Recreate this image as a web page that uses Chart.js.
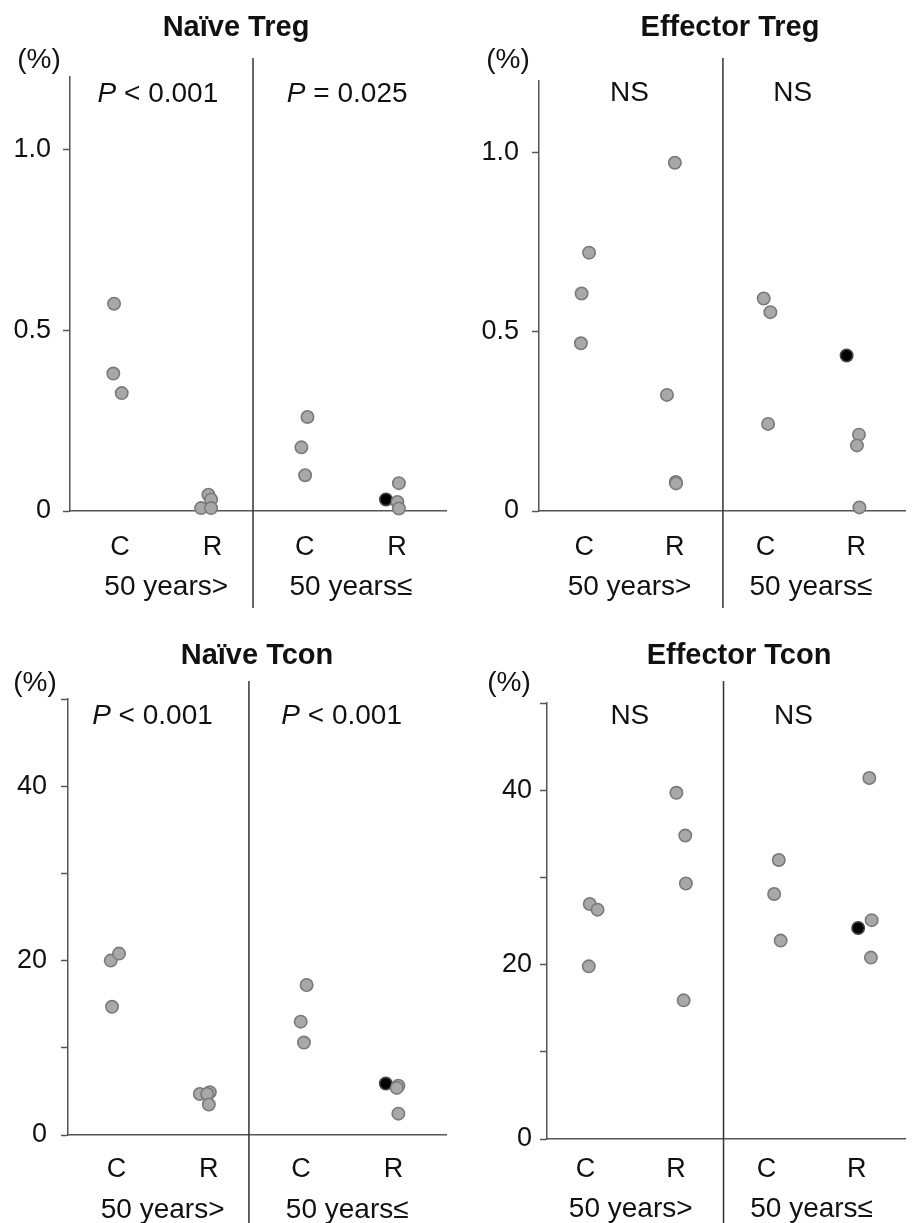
<!DOCTYPE html>
<html><head><meta charset="utf-8">
<script src="https://cdn.jsdelivr.net/npm/chart.js@4/dist/chart.umd.min.js"></script>
<style>
html,body{margin:0;padding:0;background:#fff;}
#wrap{position:relative;width:913px;height:1223px;overflow:hidden;}
canvas{position:absolute;}
</style></head><body>
<div id="wrap">
<canvas id="c1"></canvas><canvas id="c2"></canvas><canvas id="c3"></canvas><canvas id="c4"></canvas>
</div>
<script>
// ---------- data ----------
const categories = ['C', 'R', 'C', 'R'];
const categoryPos = [1, 2, 3, 4];
const groupLabels = ['50 years>', '50 years≤'];
const groupPos = [1.5, 3.5];

const tregTicks = [0, 0.5, 1.0];
const tregTickLabels = ['0', '0.5', '1.0'];
const tconTicks = [0, 10, 20, 30, 40, 50];
const tconTickLabels = ['0', '', '20', '', '40', ''];

// groups: [C 50 years>, R 50 years>, C 50 years≤, R 50 years≤]
const naiveTregValues = [[0.573, 0.380, 0.326], [0.045, 0.032, 0.008, 0.008], [0.260, 0.176, 0.099], [0.077, 0.025, 0.007]];
const naiveTregJitter = [[-0.065, -0.073, 0.018], [-0.043, -0.014, -0.122, -0.014], [0.030, -0.036, 0.004], [0.020, 0.004, 0.020]];
const naiveTregHighlight = [0.032];
const naiveTregHighlightJitter = [-0.12];
const naiveTregStats = ['P < 0.001', 'P = 0.025'];

const effTregValues = [[0.721, 0.607, 0.468], [0.972, 0.324, 0.081, 0.077], [0.593, 0.555, 0.243], [0.213, 0.183, 0.010]];
const effTregJitter = [[0.054, -0.028, -0.036], [0.000, -0.087, 0.010, 0.014], [-0.020, 0.053, 0.028], [0.030, 0.008, 0.035]];
const effTregHighlight = [0.434];
const effTregHighlightJitter = [-0.106];
const effTregStats = ['NS', 'NS'];

const naiveTconValues = [[20.0, 20.8, 14.7], [4.7, 4.9, 4.7, 3.5], [17.2, 13.0, 10.6], [5.65, 5.4, 2.45]];
const naiveTconJitter = [[-0.062, 0.028, -0.048], [-0.097, 0.011, -0.017, 0.001], [0.060, -0.004, 0.031], [0.054, 0.037, 0.054]];
const naiveTconHighlight = [5.9];
const naiveTconHighlightJitter = [-0.082];
const naiveTconStats = ['P < 0.001', 'P < 0.001'];

const effTconValues = [[26.95, 26.3, 19.8], [39.7, 34.8, 29.3, 15.9], [32.0, 28.1, 22.75], [41.4, 25.1, 20.8]];
const effTconJitter = [[0.047, 0.133, 0.036], [0.005, 0.103, 0.110, 0.085], [0.137, 0.086, 0.158], [0.138, 0.164, 0.156]];
const effTconHighlight = [24.2];
const effTconHighlightJitter = [0.015];
const effTconStats = ['NS', 'NS'];

// ---------- layout ----------
const FONT = '"Liberation Sans", Arial, Helvetica, sans-serif';
const TEXT = '#111';
const AXIS = '#555';

const panels = [
  { id: 'c1', left: 0, top: 0, w: 456, h: 612, title: 'Naïve Treg',
    values: naiveTregValues, jitter: naiveTregJitter, hl: naiveTregHighlight, hlj: naiveTregHighlightJitter, stats: naiveTregStats,
    ticks: tregTicks, tickLabels: tregTickLabels, yMax: 1.2,
    area: { left: 70, top: 77, right: 446, bottom: 511 }, xMin: 0.458, xMax: 4.53, divider: 2.44, divTop: 58, divBottom: 608,
    titleX: 236, titleBase: 36, unitX: 39, unitBase: 68, statX: [1.41, 3.46], statBase: 101.5, groupBase: 595, tickPad: 12, xPad: 12 },
  { id: 'c2', left: 456, top: 0, w: 457, h: 612, title: 'Effector Treg',
    values: effTregValues, jitter: effTregJitter, hl: effTregHighlight, hlj: effTregHighlightJitter, stats: effTregStats,
    ticks: tregTicks, tickLabels: tregTickLabels, yMax: 1.2,
    area: { left: 83, top: 81, right: 457, bottom: 511 }, xMin: 0.502, xMax: 4.54, divider: 2.53, divTop: 58, divBottom: 608,
    titleX: 274, titleBase: 36, unitX: 52, unitBase: 68, statX: [1.5, 3.3], statBase: 101, groupBase: 595, tickPad: 13, xPad: 12 },
  { id: 'c3', left: 0, top: 612, w: 456, h: 611, title: 'Naïve Tcon',
    values: naiveTconValues, jitter: naiveTconJitter, hl: naiveTconHighlight, hlj: naiveTconHighlightJitter, stats: naiveTconStats,
    ticks: tconTicks, tickLabels: tconTickLabels, yMax: 50,
    area: { left: 68, top: 87, right: 446, bottom: 523 }, xMin: 0.475, xMax: 4.57, divider: 2.435, divTop: 69, divBottom: 611,
    titleX: 257, titleBase: 52, unitX: 35, unitBase: 79, statX: [1.39, 3.44], statBase: 112, groupBase: 606, tickPad: 14, xPad: 10 },
  { id: 'c4', left: 456, top: 612, w: 457, h: 611, title: 'Effector Tcon',
    values: effTconValues, jitter: effTconJitter, hl: effTconHighlight, hlj: effTconHighlightJitter, stats: effTconStats,
    ticks: tconTicks, tickLabels: tconTickLabels, yMax: 50,
    area: { left: 91, top: 91, right: 456, bottom: 527 }, xMin: 0.574, xMax: 4.535, divider: 2.526, divTop: 69, divBottom: 611,
    titleX: 283, titleBase: 52, unitX: 53, unitBase: 79, statX: [1.49, 3.30], statBase: 112, groupBase: 605, tickPad: 8, xPad: 6 }
];

function drawStat(ctx, text, cx, base) {
  const size = 28;
  let parts;
  if (text.startsWith('P ')) parts = [['italic', 'P'], ['normal', text.slice(1)]];
  else parts = [['normal', text]];
  let total = 0;
  parts.forEach(p => { ctx.font = p[0] + ' ' + size + 'px ' + FONT; p.push(ctx.measureText(p[1]).width); total += p[2]; });
  let x = cx - total / 2;
  ctx.textAlign = 'left';
  ctx.textBaseline = 'alphabetic';
  parts.forEach(p => { ctx.font = p[0] + ' ' + size + 'px ' + FONT; ctx.fillText(p[1], x, base); x += p[2]; });
}

const annotate = {
  id: 'annotate',
  beforeDatasetsDraw(chart, args, opts) {
    const p = opts.panel, ctx = chart.ctx, xs = chart.scales.x;
    const dx = xs.getPixelForValue(p.divider);
    ctx.save();
    ctx.strokeStyle = '#333';
    ctx.lineWidth = 1.5;
    ctx.beginPath();
    ctx.moveTo(dx, p.divTop);
    ctx.lineTo(dx, p.divBottom);
    ctx.stroke();
    ctx.restore();
  },
  afterDraw(chart, args, opts) {
    const p = opts.panel, ctx = chart.ctx, xs = chart.scales.x;
    ctx.save();
    ctx.fillStyle = TEXT;
    ctx.textBaseline = 'alphabetic';
    ctx.textAlign = 'center';
    ctx.font = 'bold 29px ' + FONT;
    ctx.fillText(p.title, p.titleX, p.titleBase);
    ctx.font = '28px ' + FONT;
    ctx.fillText('(%)', p.unitX, p.unitBase);
    ctx.font = '28px ' + FONT;
    groupLabels.forEach((g, i) => ctx.fillText(g, xs.getPixelForValue(groupPos[i]), p.groupBase));
    p.stats.forEach((s, i) => drawStat(ctx, s, xs.getPixelForValue(p.statX[i]), p.statBase));
    ctx.restore();
  }
};

panels.forEach(p => {
  const cv = document.getElementById(p.id);
  cv.width = p.w; cv.height = p.h;
  cv.style.left = p.left + 'px'; cv.style.top = p.top + 'px';
  cv.style.width = p.w + 'px'; cv.style.height = p.h + 'px';

  const gray = [];
  p.values.forEach((arr, g) => arr.forEach((v, i) => gray.push({ x: categoryPos[g] + p.jitter[g][i], y: v })));
  const black = p.hl.map((v, i) => ({ x: categoryPos[3] + p.hlj[i], y: v }));

  new Chart(cv, {
    type: 'scatter',
    data: {
      datasets: [
        { data: gray, backgroundColor: '#a8a8a8', borderColor: '#7a7a7a', borderWidth: 1.6, pointRadius: 6.2, pointHoverRadius: 6.2, clip: false },
        { data: black, backgroundColor: '#000', borderColor: '#444', borderWidth: 1.6, pointRadius: 6.2, pointHoverRadius: 6.2, clip: false }
      ]
    },
    options: {
      responsive: false,
      devicePixelRatio: 1,
      animation: false,
      events: [],
      layout: { padding: { top: p.area.top, right: p.w - p.area.right, left: 0, bottom: 0 } },
      plugins: { legend: { display: false }, tooltip: { enabled: false }, title: { display: false }, annotate: { panel: p } },
      scales: {
        x: {
          type: 'linear', min: p.xMin, max: p.xMax,
          afterFit: s => { s.height = p.h - p.area.bottom; },
          afterBuildTicks: s => { s.ticks = categoryPos.map(v => ({ value: v })); },
          ticks: { callback: v => categories[categoryPos.indexOf(v)] ?? '', font: { family: FONT, size: 27 }, color: TEXT, padding: p.xPad, maxRotation: 0, autoSkip: false },
          grid: { display: false },
          border: { display: true, color: AXIS, width: 1.5 }
        },
        y: {
          type: 'linear', min: 0, max: p.yMax,
          afterFit: s => { s.width = p.area.left; },
          afterBuildTicks: s => { s.ticks = p.ticks.map(v => ({ value: v })); },
          ticks: { callback: v => { const i = p.ticks.indexOf(v); return i >= 0 ? p.tickLabels[i] : ''; }, font: { family: FONT, size: 27 }, color: TEXT, padding: p.tickPad, autoSkip: false },
          grid: { display: true, drawOnChartArea: false, drawTicks: true, tickLength: 7, tickWidth: 1.5, tickColor: AXIS },
          border: { display: true, color: AXIS, width: 1.5 }
        }
      }
    },
    plugins: [annotate]
  });
});
</script>
</body></html>
